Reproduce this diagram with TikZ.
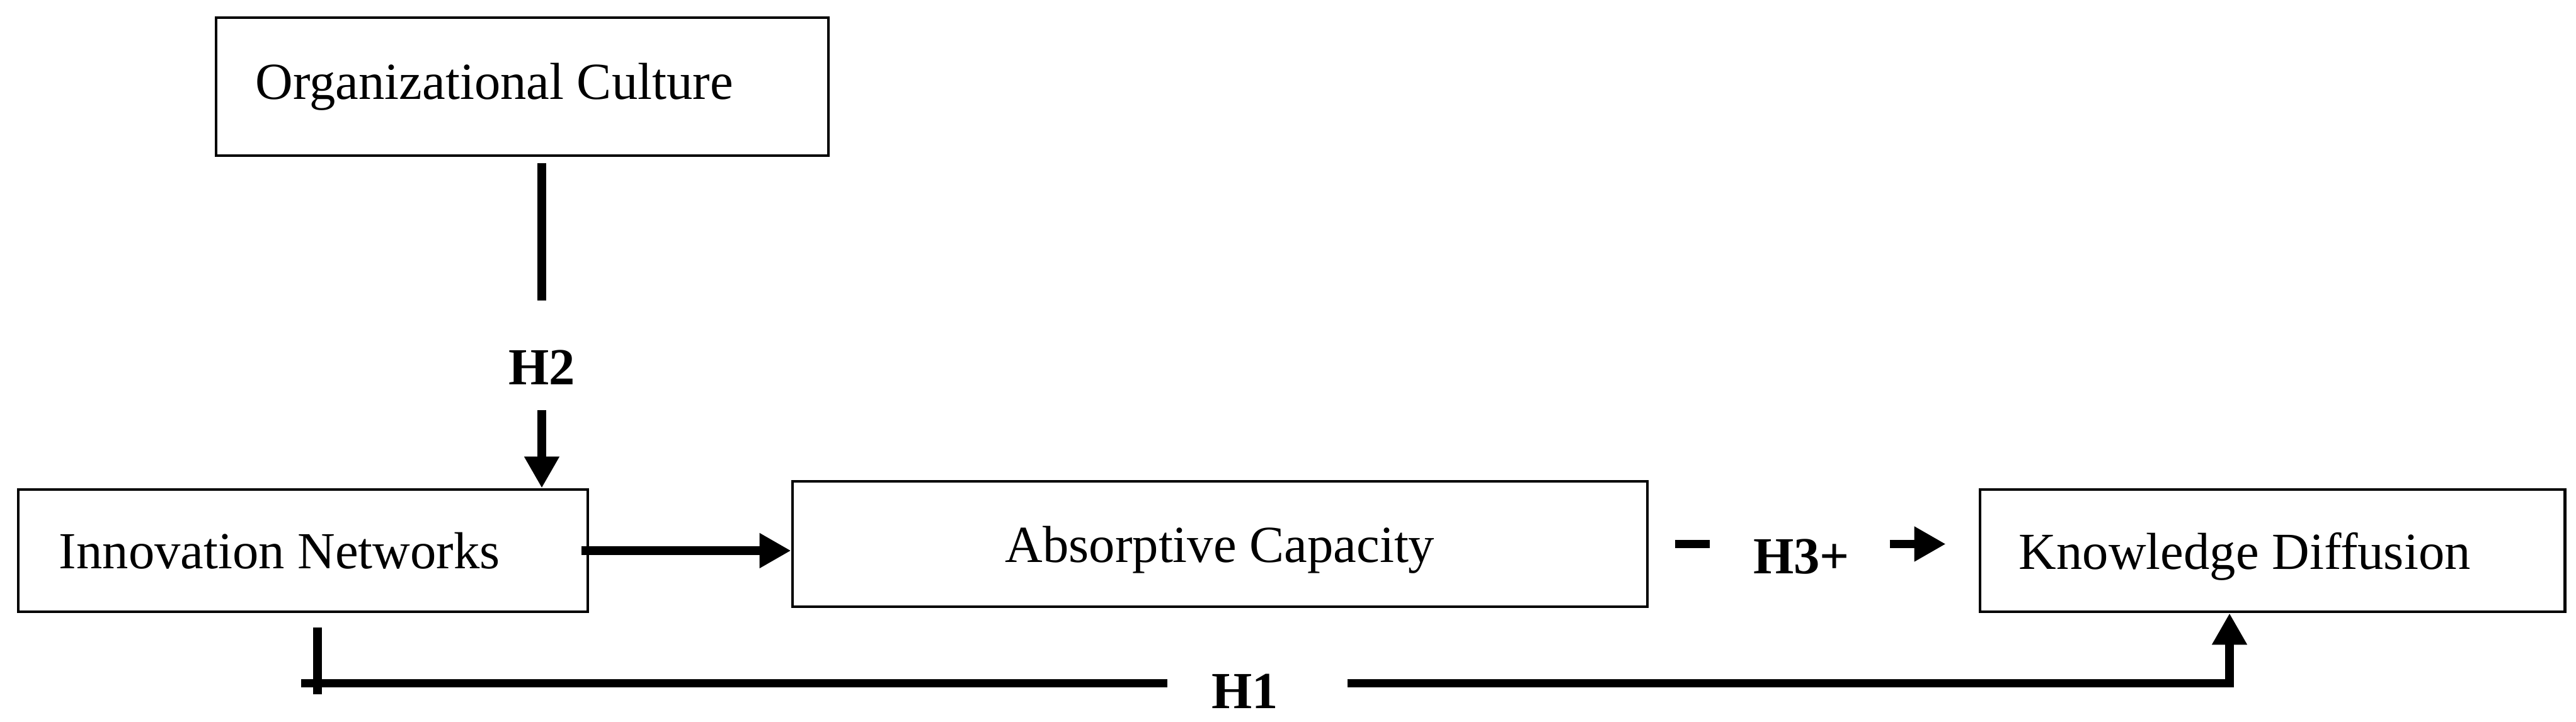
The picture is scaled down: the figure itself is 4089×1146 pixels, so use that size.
\documentclass[tikz,border=0pt]{standalone}
\usepackage{fontspec}
\setmainfont{Liberation Serif}
\usetikzlibrary{arrows.meta}
\usetikzlibrary{positioning}
\usetikzlibrary{calc}
\tikzstyle{block} = [draw, rectangle, line width = 0.53pt, text depth = 0pt, font = \fontsize{9.4}{11}\selectfont]
\tikzstyle{hyp} = [inner sep = 0pt, font = \fontsize{9.4}{11}\selectfont\bfseries]
\tikzstyle{line} = [line width = 1.5pt]
\tikzstyle{arrow} = [line width = 1.5pt, -{Triangle[length = 2mm, width = 2.1mm]}]

\begin{document}
\begin{tikzpicture}[x = 0.04mm, y = -0.04mm]
			\useasboundingbox (0,0) rectangle (4089,1146);
		
			% Boxes
			\node[block, minimum height = 7.76mm, text width = 30.96mm, inner xsep = 2.6mm, align = flush left] (innov) at (481,874) {Innovation Networks};
			\node[block, minimum width = 54.28mm, minimum height = 7.96mm, right = 12.8mm of innov, yshift = 0.42mm] (absorb) {Absorptive Capacity};
			\node[block, minimum height = 7.76mm, text width = 32.16mm, inner xsep = 2.48mm, align = flush left, right = 20.92mm of absorb, yshift = -0.42mm] (kd) {Knowledge Diffusion};
			\node[block, minimum height = 8.76mm, text width = 33.84mm, inner xsep = 2.52mm, align = flush left, text depth = 0.2em] (org) at (829,137.5) {Organizational Culture};
			
			% H2
			\node[hyp] (h2) at (860,583) {H2};
			\coordinate (h2a) at ([yshift = -0.4mm]org.south -| h2);
			\coordinate[above = 3.08mm of h2] (h2b);
			\coordinate[below = 1.56mm of h2] (h2c);
			\draw[line] (h2a) -- (h2b);
			\draw[arrow] (h2c) -- (h2c |- innov.north);
			
			% Innovation Networks to Absorptive Capacity
			\draw[arrow] ([xshift = -0.48mm]innov.east) -- (innov.east -| absorb.west);
			
			% H3
			\coordinate[right = 1.64mm of absorb] (h3a);
			\coordinate[right = 2.2mm of h3a] (h3b);
			\draw[line] (h3a) -- (h3b);
			\node[hyp, right = 6.56mm of absorb, yshift = -0.8mm] (h3) {H3+};
			\draw[arrow] ([xshift = -5.64mm]kd.west |- h3a) -- ([xshift = -2.08mm]kd.west |- h3a);
			
			% H1
			\node[hyp] (h1) at (1976,1097) {H1};
			\coordinate (h1top) at ([xshift = 0.92mm, yshift = -0.92mm]innov.south);
			\coordinate (h1bar) at ([yshift = -3.52mm]h1top);
			\draw[line] (h1top) -- ++(0,-4.24mm);
			\draw[line] ([xshift = -1.04mm]h1bar) -- ([xshift = -2.72mm]h1.west |- h1bar);
			\draw[arrow] ([xshift = 4.32mm]h1.east |- h1bar) -| ([xshift = -2.72mm]kd.south);
		
		\end{tikzpicture}
\end{document}
